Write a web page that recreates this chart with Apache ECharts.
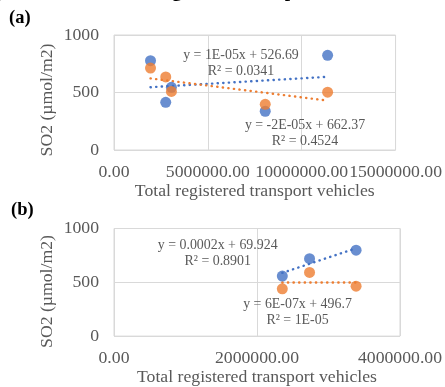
<!DOCTYPE html>
<html>
<head>
<meta charset="utf-8">
<script src="https://cdn.jsdelivr.net/npm/echarts@6/dist/echarts.min.js"></script>
<style>
  html, body { margin: 0; padding: 0; background: #ffffff; }
  #chart { width: 445px; height: 387px; }
</style>
</head>
<body>
<div id="chart"></div>
<script>
// Panel (a): all provinces
const vehiclesA = [1945000, 2756000, 3058000, 8057000, 11380000];
const so2BlueA = [777, 415, 545, 337, 823];
const so2OrangeA = [712, 635, 509, 397, 503];
// Panel (b)
const vehiclesB = [2354000, 2735000, 3386000];
const so2BlueB = [558, 719, 799];
const so2OrangeB = [439, 592, 464];

const yTicks = [0, 500, 1000];
const xTicksA = [0, 5000000, 10000000, 15000000];
const xTicksB = [0, 2000000, 4000000];

const eqBlueA = ['y = 1E-05x + 526.69', 'R² = 0.0341'];
const eqOrangeA = ['y = -2E-05x + 662.37', 'R² = 0.4524'];
const eqBlueB = ['y = 0.0002x + 69.924', 'R² = 0.8901'];
const eqOrangeB = ['y = 6E-07x + 496.7', 'R² = 1E-05'];

const xTitle = 'Total registered transport vehicles';
const yTitle = 'SO2 (µmol/m2)';
const headline = 'Relationship of SO2 with total registered transport vehicles';

const BLUE = '#4472C4';
const ORANGE = '#ED7D31';
const TEXT = '#595959';
const GRID = '#d9d9d9';
const SERIF = '"Liberation Serif", "Times New Roman", serif';

// least-squares linear fit, drawn across the data's x range
function fitLine(xs, ys) {
  const n = xs.length;
  const mx = xs.reduce((a, b) => a + b, 0) / n;
  const my = ys.reduce((a, b) => a + b, 0) / n;
  let sxy = 0, sxx = 0;
  for (let i = 0; i < n; i++) {
    sxy += (xs[i] - mx) * (ys[i] - my);
    sxx += (xs[i] - mx) * (xs[i] - mx);
  }
  const k = sxy / sxx, b = my - k * mx;
  const x0 = Math.min(...xs), x1 = Math.max(...xs);
  return [[x0, k * x0 + b], [x1, k * x1 + b]];
}
const pairs = (xs, ys) => xs.map((x, i) => [x, ys[i]]);

function xAxisCfg(gridIndex, ticks, nameGap) {
  return {
    type: 'value', gridIndex,
    min: ticks[0], max: ticks[ticks.length - 1],
    interval: ticks[1] - ticks[0],
    name: xTitle, nameLocation: 'middle', nameGap,
    nameTextStyle: { color: TEXT, fontFamily: SERIF, fontSize: 17.7 },
    axisLine: { show: false }, axisTick: { show: false },
    axisLabel: { color: TEXT, fontFamily: SERIF, fontSize: 17.7, margin: 13,
      formatter: v => v.toFixed(2) },
    splitLine: { show: true, lineStyle: { color: GRID, width: 1 } }
  };
}
function yAxisCfg(gridIndex) {
  return {
    type: 'value', gridIndex,
    min: yTicks[0], max: yTicks[yTicks.length - 1],
    interval: yTicks[1] - yTicks[0],
    axisLine: { show: false }, axisTick: { show: false },
    axisLabel: { color: TEXT, fontFamily: SERIF, fontSize: 17.7, margin: 15,
      formatter: v => String(v) },
    splitLine: { show: true, lineStyle: { color: GRID, width: 1 } }
  };
}
const dotted = color => ({ color, width: 2.4, type: [0.3, 5.3], cap: 'round' });
function scatter(idx, data, color) {
  return { type: 'scatter', xAxisIndex: idx, yAxisIndex: idx, data,
    symbol: 'circle', symbolSize: 11, itemStyle: { color }, z: 3 };
}
function trend(idx, seg, color) {
  return { type: 'line', xAxisIndex: idx, yAxisIndex: idx, data: seg,
    symbol: 'none', lineStyle: dotted(color), z: 2, silent: true };
}
function eqText(lines, x, y) {
  return { type: 'text', x, y, z: 10,
    style: { text: lines.join('\n'), fill: TEXT, font: '13.9px ' + SERIF,
      align: 'center', verticalAlign: 'middle', lineHeight: 16 } };
}
function yTitleText(x, y) {
  return { type: 'text', x, y, rotation: Math.PI / 2, z: 10,
    style: { text: yTitle, fill: TEXT, font: '17.7px ' + SERIF,
      align: 'center', verticalAlign: 'middle' } };
}

// place the headline so that "registered" sits over its column
const probe = document.createElement('canvas').getContext('2d');
probe.font = 'bold 19.3px ' + SERIF;
const headX = 172 - probe.measureText('Relationship of SO2 with total re').width;

const chart = echarts.init(document.getElementById('chart'), null, { renderer: 'canvas' });
chart.setOption({
  animation: false,
  backgroundColor: '#ffffff',
  grid: [
    { left: 114, top: 35, width: 283, height: 115, show: true, borderColor: GRID, borderWidth: 1 },
    { left: 114, top: 228.5, width: 287, height: 108.5, show: true, borderColor: GRID, borderWidth: 1 }
  ],
  xAxis: [xAxisCfg(0, xTicksA, 21.5), xAxisCfg(1, xTicksB, 31.5)],
  yAxis: [yAxisCfg(0), yAxisCfg(1)],
  series: [
    trend(0, fitLine(vehiclesA, so2BlueA), BLUE),
    trend(0, fitLine(vehiclesA, so2OrangeA), ORANGE),
    scatter(0, pairs(vehiclesA, so2BlueA), BLUE),
    scatter(0, pairs(vehiclesA, so2OrangeA), ORANGE),
    trend(1, fitLine(vehiclesB, so2BlueB), BLUE),
    trend(1, fitLine(vehiclesB, so2OrangeB), ORANGE),
    scatter(1, pairs(vehiclesB, so2BlueB), BLUE),
    scatter(1, pairs(vehiclesB, so2OrangeB), ORANGE)
  ],
  graphic: [
    { type: 'text', x: headX, y: -7.5,
      style: { text: headline, fill: '#000000', font: 'bold 19.3px ' + SERIF,
        align: 'left', verticalAlign: 'middle' } },
    { type: 'text', x: 9, y: 18,
      style: { text: '(a)', fill: '#000000', font: 'bold 18.5px ' + SERIF,
        align: 'left', verticalAlign: 'middle' } },
    { type: 'text', x: 11, y: 210,
      style: { text: '(b)', fill: '#000000', font: 'bold 18.5px ' + SERIF,
        align: 'left', verticalAlign: 'middle' } },
    yTitleText(47, 100),
    yTitleText(47, 291.5),
    eqText(eqBlueA, 241, 63),
    eqText(eqOrangeA, 305, 133.5),
    eqText(eqBlueB, 217.7, 253),
    eqText(eqOrangeB, 297.5, 312)
  ]
});
</script>
</body>
</html>
